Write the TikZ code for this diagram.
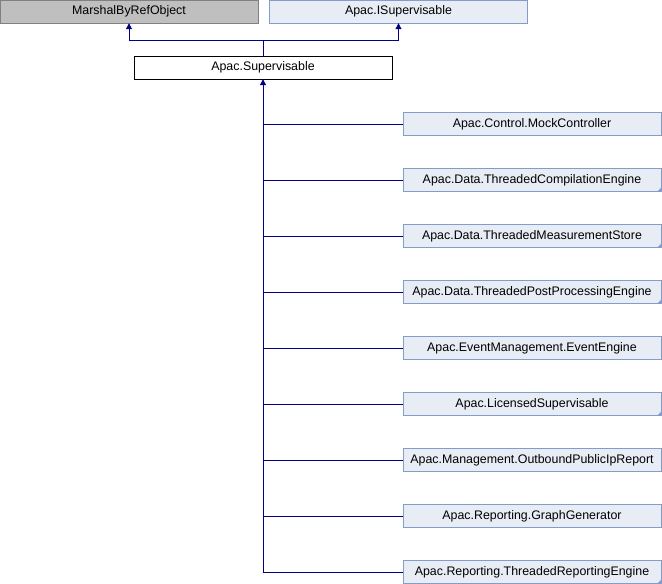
\documentclass[tikz,border=0pt]{standalone}
\usepackage{fontspec}
\setmainfont{Liberation Sans}
\usepackage{tikz}
\usetikzlibrary{arrows.meta}

\definecolor{edgeblue}{RGB}{0,0,128}
\definecolor{docfill}{RGB}{232,236,245}
\definecolor{docline}{RGB}{132,156,204}
\definecolor{extfill}{RGB}{191,191,191}
\definecolor{extline}{RGB}{128,128,128}

\begin{document}
\begin{tikzpicture}[x=1pt,y=-1pt,>={Triangle[width=6pt,length=6pt]},
  every node/.style={minimum width=258pt,minimum height=23pt,inner sep=0pt,
    font=\fontsize{12.4}{14}\selectfont},
  doc node/.style={draw=docline,fill=docfill},
  ext node/.style={draw=extline,fill=extfill},
  this node/.style={draw=black,fill=white},
  edge/.style={draw=edgeblue,line width=1pt}]

    \useasboundingbox (0,0) rectangle (662,584);

    \node[ext node] (marshal) at (129,11.5) {MarshalByRefObject};
    \node[doc node] (isup) at (398.5,11.5) {Apac.ISupervisable};
    \node[this node] (sup) at (263,67.5) {Apac.Supervisable};

    % derived classes
    \foreach \name/\label [count=\i from 0] in {%
        mock/Apac.Control.MockController,
        compile/Apac.Data.ThreadedCompilationEngine,
        store/Apac.Data.ThreadedMeasurementStore,
        post/Apac.Data.ThreadedPostProcessingEngine,
        event/Apac.EventManagement.EventEngine,
        licensed/Apac.LicensedSupervisable,
        outbound/Apac.Management.OutboundPublicIpReport,
        graph/Apac.Reporting.GraphGenerator,
        report/Apac.Reporting.ThreadedReportingEngine}
        \node[doc node] (\name) at (532,124+56*\i) {\label};

    % folded corners
    \foreach \name in {compile, store, post, licensed, report}
        \fill[docline] (\name.south east) -- ++(-4,0) -- ++(4,-4) -- cycle;

    % base classes
    \draw[edge,->] (sup.north) -- ++(0,-15) -| (marshal.south);
    \draw[edge,->] (sup.north) -- ++(0,-15) -| (isup.south);

    % inheritance tree
    \draw[edge,<-] (sup.south) -- (sup.south |- report.west);
    \foreach \name in {mock, compile, store, post, event, licensed, outbound, graph, report}
        \draw[edge] (sup.south |- \name.west) -- (\name.west);
\end{tikzpicture}
\end{document}
